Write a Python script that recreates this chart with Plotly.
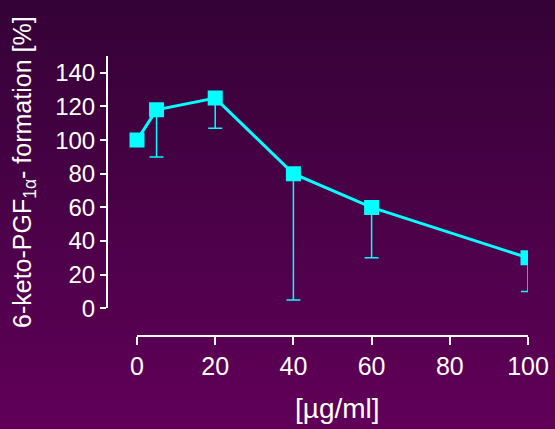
import plotly.graph_objects as go
import urllib.parse

# Data
concentration = [0, 5, 20, 40, 60, 100]          # µg/ml
formation = [100, 118, 125, 80, 60, 30]           # %
lower_bound = [100, 90, 107, 5, 30, 10]           # lower end of error bar
x_ticks = [0, 20, 40, 60, 80, 100]
y_ticks = [0, 20, 40, 60, 80, 100, 120, 140]

err_minus = [f - lo for f, lo in zip(formation, lower_bound)]
err_plus = [0] * len(formation)

W, H = 555, 429
ML, MR, MT, MB = 108, 27, 56, 93
PW = W - ML - MR
PH = H - MT - MB

CYAN = "#00ffff"
FONT = "Liberation Sans, Arial, Helvetica, sans-serif"

svg = (
    "<svg xmlns='http://www.w3.org/2000/svg' width='555' height='429' preserveAspectRatio='none'>"
    "<defs><linearGradient id='g' x1='0' y1='0' x2='0' y2='1'>"
    "<stop offset='0' stop-color='#340236'/>"
    "<stop offset='1' stop-color='#610059'/>"
    "</linearGradient></defs>"
    "<rect width='555' height='429' fill='url(#g)'/></svg>"
)
bg_uri = "data:image/svg+xml;charset=utf-8," + urllib.parse.quote(svg)

fig = go.Figure()
fig.add_trace(go.Scatter(
    x=concentration, y=formation,
    mode="lines+markers",
    line=dict(color=CYAN, width=3),
    marker=dict(symbol="square", size=15, color=CYAN),
    error_y=dict(type="data", symmetric=False, array=err_plus,
                 arrayminus=err_minus, color=CYAN, thickness=1.5, width=7),
    xaxis="x", yaxis="y", showlegend=False, hoverinfo="x+y",
))
# carrier trace for the offset x axis
fig.add_trace(go.Scatter(x=[], y=[], xaxis="x2", yaxis="y",
                         showlegend=False, hoverinfo="skip"))

x0_px = 137
zero_frac = (x0_px - ML) / PW
px_per_unit = (W - MR - x0_px) / 100.0
left_val = -(x0_px - ML) / px_per_unit
y_bottom_frac = ((H - MB) - 308.3) / PH

fig.update_layout(
    width=W, height=H,
    autosize=False,
    margin=dict(l=ML, r=MR, t=MT, b=MB, autoexpand=False),
    paper_bgcolor="#4c004b",
    plot_bgcolor="rgba(0,0,0,0)",
    font=dict(family=FONT, size=25, color="white"),
    images=[dict(source=bg_uri, xref="paper", yref="paper",
                 x=-ML / PW, y=1 + MT / PH, sizex=W / PW, sizey=H / PH,
                 xanchor="left", yanchor="top", sizing="stretch",
                 layer="below", opacity=1)],
    xaxis=dict(domain=[0, 1], range=[left_val, 100], visible=False,
               fixedrange=True, automargin=False),
    xaxis2=dict(domain=[zero_frac, 1], range=[0, 100], anchor="free",
                position=0, showline=True, linecolor="white", linewidth=2,
                ticks="outside", ticklen=8, tickwidth=2, tickcolor="white",
                tickvals=x_ticks, showgrid=False, zeroline=False,
                automargin=False,
                tickfont=dict(size=25, color="white")),
    yaxis=dict(domain=[y_bottom_frac, 1], range=[0, 150], anchor="x",
               showline=True, linecolor="white", linewidth=2,
               ticks="outside", ticklen=6, tickwidth=2, tickcolor="white",
               tickvals=y_ticks, showgrid=False, zeroline=False,
               automargin=False,
               tickfont=dict(size=24, color="white")),
    annotations=[
        dict(text="6-keto-PGF<sub>1α</sub>- formation [%]",
             textangle=-90, xref="paper", yref="paper",
             x=(24 - ML) / PW, y=1 - (172 - MT) / PH,
             xanchor="center", yanchor="middle", showarrow=False,
             font=dict(size=25, color="white")),
        dict(text="[µg/ml]", xref="paper", yref="paper",
             x=(337 - ML) / PW, y=1 - (408 - MT) / PH,
             xanchor="center", yanchor="middle", showarrow=False,
             font=dict(size=28, color="white")),
    ],
)

fig.write_html("out.html")
